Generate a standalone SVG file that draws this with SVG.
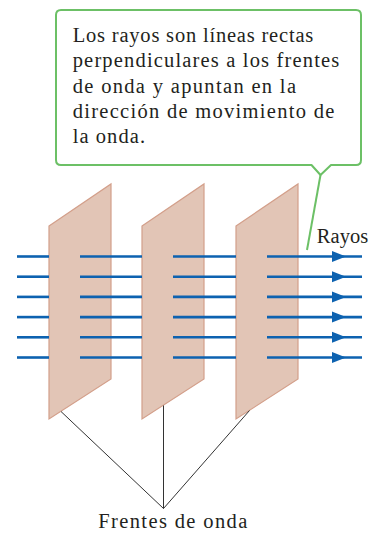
<svg xmlns="http://www.w3.org/2000/svg" width="386" height="533" viewBox="0 0 386 533">
  <style>
    .front { fill: #e2c5b6; stroke: #d39f8a; stroke-width: 1.2; stroke-linejoin: miter; }
    .ray { stroke: #0d62b0; stroke-width: 2.6; fill: none; }
    .head { fill: #0d62b0; }
    .leader { stroke: #333; stroke-width: 1; fill: none; }
    .bubble { fill: #fff; stroke: #6cc066; stroke-width: 2; stroke-linejoin: round; }
    .pointer { stroke: #6cc066; stroke-width: 2; fill: none; }
    text { font-family: "Liberation Serif", "Times New Roman", serif; font-size: 20.5px; fill: #231f20; }
  </style>
  <defs>
    <polygon id="arrowhead" class="head" points="0,-5.5 14,0 0,5.5"/>
    <g id="ray-row">
      <line class="ray" x1="17" y1="0" x2="49" y2="0"/>
      <line class="ray" x1="80" y1="0" x2="142" y2="0"/>
      <line class="ray" x1="173" y1="0" x2="236" y2="0"/>
      <line class="ray" x1="267" y1="0" x2="362" y2="0"/>
      <use href="#arrowhead" x="332"/>
    </g>
  </defs>

  <!-- wave fronts -->
  <g id="front-1"><polygon class="front" points="49,226 111,184 111,379 49,419"/></g>
  <g id="front-2"><polygon class="front" points="142,226 204,184 204,379 142,419"/></g>
  <g id="front-3"><polygon class="front" points="236,226 298,184 298,379 236,419"/></g>

  <!-- rays -->
  <g id="rays">
    <use href="#ray-row" y="256.5"/>
    <use href="#ray-row" y="276.7"/>
    <use href="#ray-row" y="296.9"/>
    <use href="#ray-row" y="317.1"/>
    <use href="#ray-row" y="337.3"/>
    <use href="#ray-row" y="357.5"/>
  </g>

  <!-- connectors -->
  <g id="connectors">
    <line class="leader" x1="61" y1="411.5" x2="163.5" y2="508.5"/>
    <line class="leader" x1="163.5" y1="405.5" x2="163.5" y2="508.5"/>
    <line class="leader" x1="249.5" y1="410.5" x2="163.5" y2="508.5"/>
    <line class="pointer" x1="320.5" y1="175" x2="307" y2="250"/>
  </g>

  <g id="callout">
    <path class="bubble" d="M61,10 H356 Q361,10 361,15 V160 Q361,165 356,165 H331 L320.5,175 L311.5,165 H61 Q56,165 56,160 V15 Q56,10 61,10 Z"/>
    <text x="72.7" y="42" textLength="240.6" lengthAdjust="spacing">Los rayos son líneas rectas</text>
    <text x="72.7" y="67.3" textLength="266.6" lengthAdjust="spacing">perpendiculares a los frentes</text>
    <text x="72.7" y="92.7" textLength="223.3" lengthAdjust="spacing">de onda y apuntan en la</text>
    <text x="72.7" y="118" textLength="261.6" lengthAdjust="spacing">dirección de movimiento de</text>
    <text x="72.7" y="143.3" textLength="72.3" lengthAdjust="spacing">la onda.</text>
  </g>
  <g id="label-rayos">
    <text x="316.7" y="243" textLength="51.6" lengthAdjust="spacing">Rayos</text>
  </g>
  <g id="label-frentes">
    <text x="98.3" y="528" textLength="149" lengthAdjust="spacing">Frentes de onda</text>
  </g>
</svg>
